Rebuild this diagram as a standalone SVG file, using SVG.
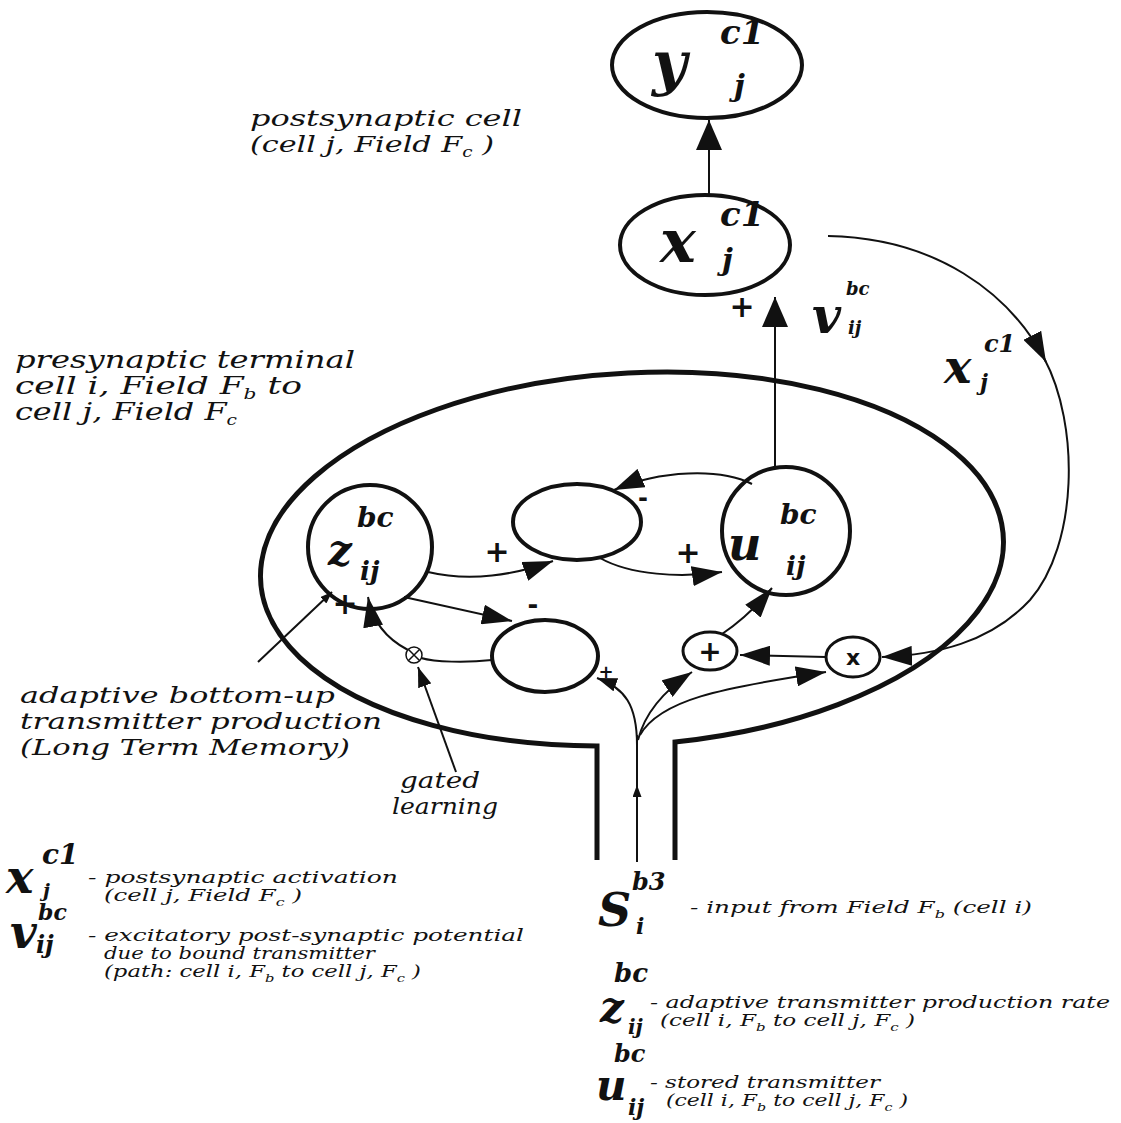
<svg xmlns="http://www.w3.org/2000/svg" width="1121" height="1123" viewBox="0 0 1121 1123">
<style>
.t{font-family:"DejaVu Serif","Liberation Serif",serif;font-style:italic;fill:#111}
.lg{font-family:"DejaVu Serif","Liberation Serif",serif;font-style:italic;fill:#111;font-size:17px}
.m{font-family:"DejaVu Serif","Liberation Serif",serif;font-style:italic;font-weight:bold;fill:#111}
.node{fill:none;stroke:#111;stroke-width:4}
.sn{fill:#fff;stroke:#111;stroke-width:3}
.c{fill:none;stroke:#111;stroke-width:2}
.pm{font-family:"DejaVu Sans","Liberation Sans",sans-serif;font-weight:bold;fill:#111}
</style>
<defs>
<marker id="big" markerUnits="userSpaceOnUse" markerWidth="30" markerHeight="26" refX="30" refY="13" orient="auto"><path d="M0,0 L30,13 L0,26 z" fill="#111"/></marker>
<marker id="med" markerUnits="userSpaceOnUse" markerWidth="30" markerHeight="20" refX="30" refY="10" orient="auto"><path d="M0,0 L30,10 L0,20 z" fill="#111"/></marker>
<marker id="sm" markerUnits="userSpaceOnUse" markerWidth="20" markerHeight="14" refX="20" refY="7" orient="auto"><path d="M0,0 L20,7 L0,14 z" fill="#111"/></marker>
<marker id="xs" markerUnits="userSpaceOnUse" markerWidth="12" markerHeight="9" refX="12" refY="4.5" orient="auto"><path d="M0,0 L12,4.5 L0,9 z" fill="#111"/></marker>
</defs>
<rect width="1121" height="1123" fill="#fff"/>

<g id="terminal">
<path d="M597,860 L597,746 A372 186 -3.5 1 1 675,742 L675,860" fill="none" stroke="#111" stroke-width="5"/>
</g>

<g id="connectors">
<path class="c" d="M709,195 L709,120" marker-end="url(#big)"/>
<path class="c" d="M775,467 L775,297" marker-end="url(#big)"/>
<path class="c" d="M828,236 C935,238 1010,292 1046,362" marker-end="url(#med)"/>
<path class="c" d="M1044,358 C1080,425 1078,545 1030,600 C990,643 935,655 882,657" marker-end="url(#med)"/>
<path class="c" d="M826,657 L740,655" marker-end="url(#med)"/>
<path class="c" d="M722,634 C740,622 758,605 772,588" marker-end="url(#med)"/>
<path class="c" d="M637,862 L637,785" marker-end="url(#xs)"/>
<path class="c" d="M637,790 L637,735"/>
<path class="c" d="M637,745 C637,705 625,688 597,678" marker-end="url(#sm)"/>
<path class="c" d="M638,740 C645,712 665,690 692,672" marker-end="url(#med)"/>
<path class="c" d="M640,735 C660,700 720,688 826,672" marker-end="url(#med)"/>
<path class="c" d="M428,572 C470,582 515,575 553,561" marker-end="url(#med)"/>
<path class="c" d="M600,558 C630,575 680,578 722,572" marker-end="url(#med)"/>
<path class="c" d="M752,484 C720,468 660,470 614,490" marker-end="url(#med)"/>
<path class="c" d="M404,597 L512,621" marker-end="url(#med)"/>
<path class="c" d="M492,660 C465,663 435,662 421,658"/>
<path class="c" d="M408,650 C385,638 372,620 368,597" marker-end="url(#med)"/>
<path class="c" d="M456,772 L418,667" marker-end="url(#sm)"/>
<path class="c" d="M258,662 L332,592" marker-end="url(#xs)"/>
</g>

<g id="node-y">
<ellipse class="node" cx="707" cy="65" rx="95" ry="53"/>
<text class="m" x="652" y="84" font-size="60">y</text>
<text class="m" x="720" y="44" font-size="34">c1</text>
<text class="m" x="734" y="96" font-size="30">j</text>
</g>
<g id="node-x">
<ellipse class="node" cx="705" cy="245" rx="85" ry="50"/>
<text class="m" x="660" y="262" font-size="60">x</text>
<text class="m" x="720" y="226" font-size="34">c1</text>
<text class="m" x="722" y="270" font-size="30">j</text>
</g>
<g id="node-z">
<circle class="node" cx="370" cy="547" r="62"/>
<text class="m" x="328" y="565" font-size="42">z</text>
<text class="m" x="357" y="527" font-size="28">bc</text>
<text class="m" x="360" y="580" font-size="26">ij</text>
</g>
<g id="node-upper">
<ellipse class="node" cx="577" cy="522" rx="64" ry="38"/>
</g>
<g id="node-u">
<circle class="node" cx="786" cy="531" r="64"/>
<text class="m" x="728" y="560" font-size="46">u</text>
<text class="m" x="780" y="524" font-size="28">bc</text>
<text class="m" x="786" y="575" font-size="26">ij</text>
</g>
<g id="node-lower">
<ellipse class="node" cx="545" cy="656" rx="53" ry="36"/>
</g>
<g id="node-plus">
<ellipse class="sn" cx="710" cy="651" rx="27" ry="19"/>
<text class="pm" x="710" y="661" font-size="28" text-anchor="middle">+</text>
</g>
<g id="node-times">
<ellipse class="sn" cx="853" cy="657" rx="27" ry="20"/>
<text class="pm" x="853" y="665" font-size="22" text-anchor="middle" font-weight="normal">x</text>
</g>
<g id="node-gate">
<circle cx="414" cy="655" r="8" fill="#fff" stroke="#111" stroke-width="1.5"/>
<path d="M408.5,649.5 L419.5,660.5 M419.5,649.5 L408.5,660.5" stroke="#111" stroke-width="1.5"/>
</g>

<g id="signs">
<text class="pm" x="497" y="562" font-size="30" text-anchor="middle">+</text>
<text class="pm" x="688" y="563" font-size="30" text-anchor="middle">+</text>
<text class="pm" x="643" y="506" font-size="24" text-anchor="middle">-</text>
<text class="pm" x="533" y="614" font-size="26" text-anchor="middle">-</text>
<text class="pm" x="345" y="614" font-size="30" text-anchor="middle">+</text>
<text class="pm" x="606" y="678" font-size="18" text-anchor="middle">+</text>
<text class="pm" x="742" y="317" font-size="30" text-anchor="middle">+</text>
</g>

<g id="label-v">
<text class="m" x="812" y="333" font-size="50">v</text>
<text class="m" x="846" y="295" font-size="18">bc</text>
<text class="m" x="848" y="334" font-size="18">ij</text>
</g>
<g id="label-x">
<text class="m" x="944" y="383" font-size="46">x</text>
<text class="m" x="984" y="352" font-size="24">c1</text>
<text class="m" x="980" y="390" font-size="22">j</text>
</g>

<g id="label-post">
<text class="t" x="250" y="126" font-size="23" textLength="272" lengthAdjust="spacingAndGlyphs">postsynaptic cell</text>
<text class="t" x="250" y="152" font-size="23" textLength="244" lengthAdjust="spacingAndGlyphs">(cell j, Field F<tspan font-size="14" dy="5">c</tspan><tspan dy="-5"> )</tspan></text>
</g>
<g id="label-pre">
<text class="t" x="15" y="368" font-size="24" textLength="340" lengthAdjust="spacingAndGlyphs">presynaptic terminal</text>
<text class="t" x="15" y="394" font-size="24" textLength="287" lengthAdjust="spacingAndGlyphs">cell i, Field F<tspan font-size="14" dy="5">b</tspan><tspan dy="-5"> to</tspan></text>
<text class="t" x="15" y="420" font-size="24" textLength="222" lengthAdjust="spacingAndGlyphs">cell j, Field F<tspan font-size="14" dy="5">c</tspan></text>
</g>
<g id="label-adaptive">
<text class="t" x="20" y="703" font-size="23" textLength="315" lengthAdjust="spacingAndGlyphs">adaptive bottom-up</text>
<text class="t" x="20" y="729" font-size="23" textLength="362" lengthAdjust="spacingAndGlyphs">transmitter production</text>
<text class="t" x="20" y="755" font-size="23" textLength="330" lengthAdjust="spacingAndGlyphs">(Long Term Memory)</text>
</g>
<g id="label-gated">
<text class="t" x="400" y="788" font-size="23" textLength="80" lengthAdjust="spacingAndGlyphs">gated</text>
<text class="t" x="392" y="814" font-size="23" textLength="106" lengthAdjust="spacingAndGlyphs">learning</text>
</g>

<g id="legend-x">
<text class="m" x="6" y="893" font-size="46">x</text>
<text class="m" x="42" y="864" font-size="28">c1</text>
<text class="m" x="43" y="897" font-size="19">j</text>
<text class="lg" x="88" y="883" textLength="310" lengthAdjust="spacingAndGlyphs">- postsynaptic activation</text>
<text class="lg" x="104" y="901" textLength="198" lengthAdjust="spacingAndGlyphs">(cell j, Field F<tspan font-size="11" dy="5">c</tspan><tspan dy="-5">  )</tspan></text>
</g>
<g id="legend-v">
<text class="m" x="10" y="948" font-size="46">v</text>
<text class="m" x="38" y="920" font-size="22">bc</text>
<text class="m" x="36" y="953" font-size="24">ij</text>
<text class="lg" x="88" y="941" textLength="436" lengthAdjust="spacingAndGlyphs">- excitatory post-synaptic potential</text>
<text class="lg" x="104" y="959" textLength="271" lengthAdjust="spacingAndGlyphs">due to bound transmitter</text>
<text class="lg" x="104" y="977" textLength="317" lengthAdjust="spacingAndGlyphs">(path: cell i, F<tspan font-size="11" dy="5">b</tspan><tspan dy="-5"> to cell j, F</tspan><tspan font-size="11" dy="5">c</tspan><tspan dy="-5">  )</tspan></text>
</g>
<g id="legend-s">
<text class="m" x="598" y="926" font-size="46" font-style="normal">S</text>
<text class="m" x="632" y="890" font-size="24">b3</text>
<text class="m" x="636" y="934" font-size="22">i</text>
<text class="lg" x="690" y="913" textLength="342" lengthAdjust="spacingAndGlyphs">- input from Field F<tspan font-size="11" dy="5">b</tspan><tspan dy="-5">  (cell i)</tspan></text>
</g>
<g id="legend-z">
<text class="m" x="614" y="982" font-size="26">bc</text>
<text class="m" x="600" y="1022" font-size="42">z</text>
<text class="m" x="628" y="1034" font-size="20">ij</text>
<text class="lg" x="650" y="1008" textLength="460" lengthAdjust="spacingAndGlyphs">- adaptive transmitter production rate</text>
<text class="lg" x="660" y="1026" textLength="255" lengthAdjust="spacingAndGlyphs">(cell i, F<tspan font-size="11" dy="5">b</tspan><tspan dy="-5"> to cell j, F</tspan><tspan font-size="11" dy="5">c</tspan><tspan dy="-5">  )</tspan></text>
</g>
<g id="legend-u">
<text class="m" x="614" y="1062" font-size="24">bc</text>
<text class="m" x="596" y="1100" font-size="42">u</text>
<text class="m" x="628" y="1115" font-size="22">ij</text>
<text class="lg" x="650" y="1088" textLength="230" lengthAdjust="spacingAndGlyphs">- stored transmitter</text>
<text class="lg" x="666" y="1106" textLength="242" lengthAdjust="spacingAndGlyphs">(cell i, F<tspan font-size="11" dy="5">b</tspan><tspan dy="-5"> to cell j, F</tspan><tspan font-size="11" dy="5">c</tspan><tspan dy="-5"> )</tspan></text>
</g>
</svg>
